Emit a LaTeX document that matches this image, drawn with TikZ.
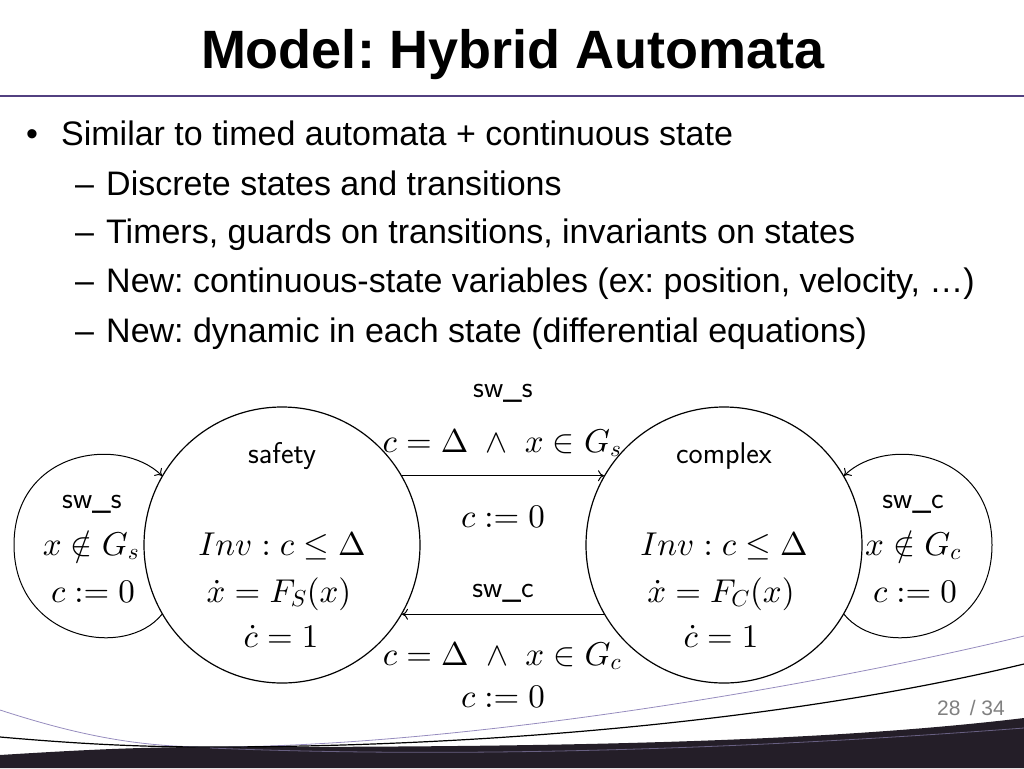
\RequirePackage{fix-cm}
\documentclass[tikz,border=0pt]{standalone}
\usepackage[no-math]{fontspec}
\newfontfamily\slidefont{Liberation Sans}
\usetikzlibrary{arrows.meta}
\frenchspacing
% math at the 10pt design size, scaled up
\DeclareFontShape{OT1}{cmr}{m}{n}{<->cmr10}{}
\DeclareFontShape{OML}{cmm}{m}{it}{<->cmmi10}{}
\DeclareFontShape{OMS}{cmsy}{m}{n}{<->cmsy10}{}

\definecolor{slideline}{RGB}{82,64,128}
\definecolor{footgray}{RGB}{128,128,128}
\definecolor{swoosh}{RGB}{36,30,40}
\definecolor{swooshline}{RGB}{150,140,190}

\tikzset{
  state/.style={circle, draw, line width=1.2pt, minimum size=276pt, inner sep=0pt},
  trans/.style={-{To[length=6pt,width=11pt]}, line width=1pt},
  lbl/.style={font=\sffamily\fontsize{30}{36}\selectfont, anchor=base, inner sep=0pt},
  eq/.style={font=\fontsize{33}{40}\selectfont, anchor=base, inner sep=0pt},
  bodytext/.style={font=\slidefont\fontsize{34}{40}\selectfont, anchor=base west, inner sep=0pt},
}

\begin{document}
\begin{tikzpicture}[x=1pt, y=-1pt]
  \useasboundingbox (0,0) rectangle (1024,768);

  % Footer swooshes
  \fill[swoosh] (0,755) .. controls (80,750) and (140,747) .. (210,747)
    .. controls (500,747) and (800,745) .. (1024,718) -- (1024,768) -- (0,768) -- cycle;
  \draw[swooshline, line width=0.8pt] (0,710) .. controls (80,736) and (140,747) .. (210,747)
    .. controls (450,747) and (800,690) .. (1024,636);
  \draw[line width=1.2pt] (0,737) .. controls (80,744) and (140,747) .. (210,747)
    .. controls (500,747) and (800,718) .. (1024,664);
  \draw[swooshline!60!swoosh, line width=0.8pt] (210,748) .. controls (500,760) and (800,745) .. (1024,728);

  % Title and rule
  \node[font=\slidefont\bfseries\fontsize{54}{60}\selectfont, anchor=base, inner sep=0pt]
    (title) at (513,68) {Model: Hybrid Automata};
  \draw[slideline, line width=1.5pt] (0,96) -- (1024,96);

  % Bullet list
  \node[bodytext] (bullet) at (26,145) {•};
  \node[bodytext] (item) at (61,145) {Similar to timed automata + continuous state};
  \foreach \y in {195,243,292,342} {
    \node[bodytext] (dash\y) at (75,\y) {–};
  }
  \node[bodytext] (subitema) at (106,195) {Discrete states and transitions};
  \node[bodytext] (subitemb) at (106,243) {Timers, guards on transitions, invariants on states};
  \node[bodytext] (subitemc) at (106,292) {New: continuous-state variables (ex: position, velocity, …)};
  \node[bodytext] (subitemd) at (106,342) {New: dynamic in each state (differential equations)};

  % States
  \node[state] (safety) at (282,545) {};
  \node[state] (complex) at (724,545) {};

  \node[lbl] (safetyname) at (282,463) {safety};
  \node[eq] (safetyinv) at (282,555) {$Inv: c \leq \Delta$};
  \node[eq] (safetyflow) at (279,602) {$\dot{x} = F_S(x)$};
  \node[eq] (safetyclock) at (281,647) {$\dot{c} = 1$};

  \node[lbl] (complexname) at (724,463) {complex};
  \node[eq] (complexinv) at (724,555) {$Inv: c \leq \Delta$};
  \node[eq] (complexflow) at (721,602) {$\dot{x} = F_C(x)$};
  \node[eq] (complexclock) at (721,647) {$\dot{c} = 1$};

  % Transitions between states
  \draw[trans] (safety.30) -- (complex.150);
  \draw[trans] (complex.210) -- (safety.330);

  \node[lbl] (topsw) at (503,397) {sw\_s};
  \node[eq] (topguard) at (502,452) {$c = \Delta \ \wedge\ x \in G_s$};
  \node[eq] (topreset) at (503,527) {$c := 0$};
  \node[lbl] (botsw) at (503,597) {sw\_c};
  \node[eq] (botguard) at (502,665) {$c = \Delta \ \wedge\ x \in G_c$};
  \node[eq] (botreset) at (503,707) {$c := 0$};

  % Self loops
  \coordinate (leftloop) at (14,545);
  \coordinate (rightloop) at (992,545);
  \draw[trans] (safety.210) .. controls (125,660) and (14,640) .. (leftloop)
    .. controls (14,450) and (120,435) .. (safety.150);
  \draw[trans] (complex.330) .. controls (881,660) and (992,640) .. (rightloop)
    .. controls (992,450) and (886,435) .. (complex.30);

  \node[lbl] (leftsw) at (92,508) {sw\_s};
  \node[eq] (leftguard) at (91,555) {$x \notin G_s$};
  \node[eq] (leftreset) at (93,602) {$c := 0$};
  \node[lbl] (rightsw) at (913,508) {sw\_c};
  \node[eq] (rightguard) at (913,555) {$x \notin G_c$};
  \node[eq] (rightreset) at (915,602) {$c := 0$};

  % Page number
  \node[font=\slidefont\fontsize{21}{25}\selectfont, text=footgray, anchor=base east, inner sep=0pt]
    (pageno) at (1005,715) {28 \,/ 34};
\end{tikzpicture}
\end{document}
